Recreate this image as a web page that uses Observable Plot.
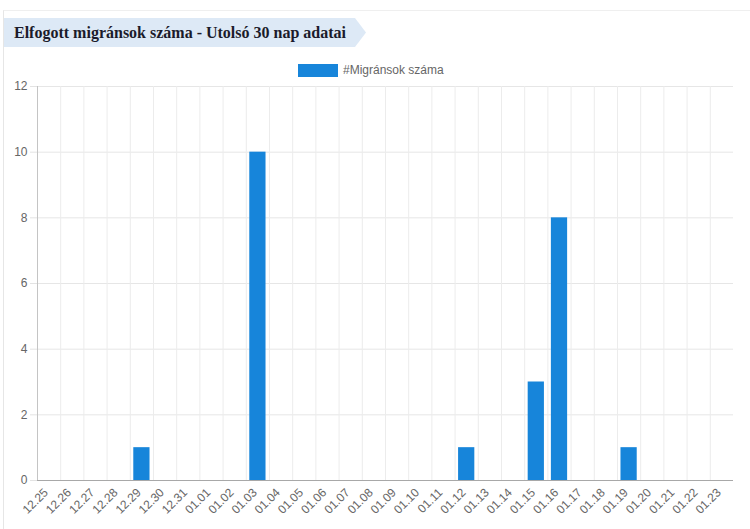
<!DOCTYPE html>
<html><head><meta charset="utf-8">
<script src="https://cdn.jsdelivr.net/npm/d3@7"></script>
<script src="https://cdn.jsdelivr.net/npm/@observablehq/plot@0.6"></script>
<style>
body{margin:0;background:#fff;width:750px;height:529px;overflow:hidden;position:relative;font-family:"Liberation Sans",Arial,sans-serif}
#frame{position:absolute;left:3px;top:10px;right:0;bottom:0;border-top:1px solid #efefef;border-left:1px solid #e6e6e6}
#banner{position:absolute;left:4px;top:18px;width:362px;height:29px;background:#dde9f6;clip-path:polygon(0 0,351px 0,100% 50%,351px 100%,0 100%)}
#title{position:absolute;left:14px;top:18px;line-height:29px;font-family:"Liberation Serif",serif;font-weight:bold;font-size:16px;color:#1b1b2b;white-space:nowrap}
#legend{position:absolute;top:63px;left:298px;display:flex;align-items:center;font-size:12px;color:#666}
#legend .sw{width:40px;height:13px;background:#1785da;margin-right:5px}
#chart{position:absolute;top:80px;left:0}
</style></head>
<body>
<div id="frame"></div>
<div id="banner"></div>
<div id="title">Elfogott migránsok száma - Utolsó 30 nap adatai</div>
<div id="legend"><div class="sw"></div><span>#Migránsok száma</span></div>
<div id="chart"></div>
<script>
const dates = ["12.25","12.26","12.27","12.28","12.29","12.30","12.31","01.01","01.02","01.03","01.04","01.05","01.06","01.07","01.08","01.09","01.10","01.11","01.12","01.13","01.14","01.15","01.16","01.17","01.18","01.19","01.20","01.21","01.22","01.23"];
const counts = [0,0,0,0,1,0,0,0,0,10,0,0,0,0,0,0,0,0,1,0,0,3,8,0,0,1,0,0,0,0];
const yTicks = [0,2,4,6,8,10,12];

const data = dates.map((d, i) => ({i, d, v: counts[i]}));

const chart = Plot.plot({
  width: 750, height: 449,
  marginTop: 6, marginBottom: 49, marginLeft: 37, marginRight: 17,
  style: {fontFamily: "'Liberation Sans', Arial, sans-serif", fontSize: "12px", background: "transparent"},
  x: {type: "linear", domain: [0, dates.length], axis: null},
  y: {domain: [0, 12], axis: null},
  marks: [
    Plot.gridY(yTicks, {stroke: "#e6e6e6", strokeOpacity: 1}),
    Plot.ruleX(data, {x: "i", stroke: "#ececec"}),
    Plot.axisY(yTicks, {tickSize: 7, tickPadding: 3, stroke: "#e3e3e3", fill: "#666", strokeOpacity: 1, label: null}),
    Plot.rectY(data.filter(d => d.v > 0), {x1: d => d.i + 0.15, x2: d => d.i + 0.85, y: "v", fill: "#1785da"}),
    Plot.ruleX([0], {stroke: "#c4c4c4"}),
    Plot.ruleY([0], {stroke: "#a8a8a8"}),
    Plot.axisX(data.map(d => d.i + 0.5), {tickFormat: t => dates[Math.floor(t)], tickRotate: -45, tickSize: 0, tickPadding: 5, dx: -3, dy: 5, fill: "#666", label: null})
  ]
});
document.getElementById("chart").appendChild(chart);
</script>
</body></html>
